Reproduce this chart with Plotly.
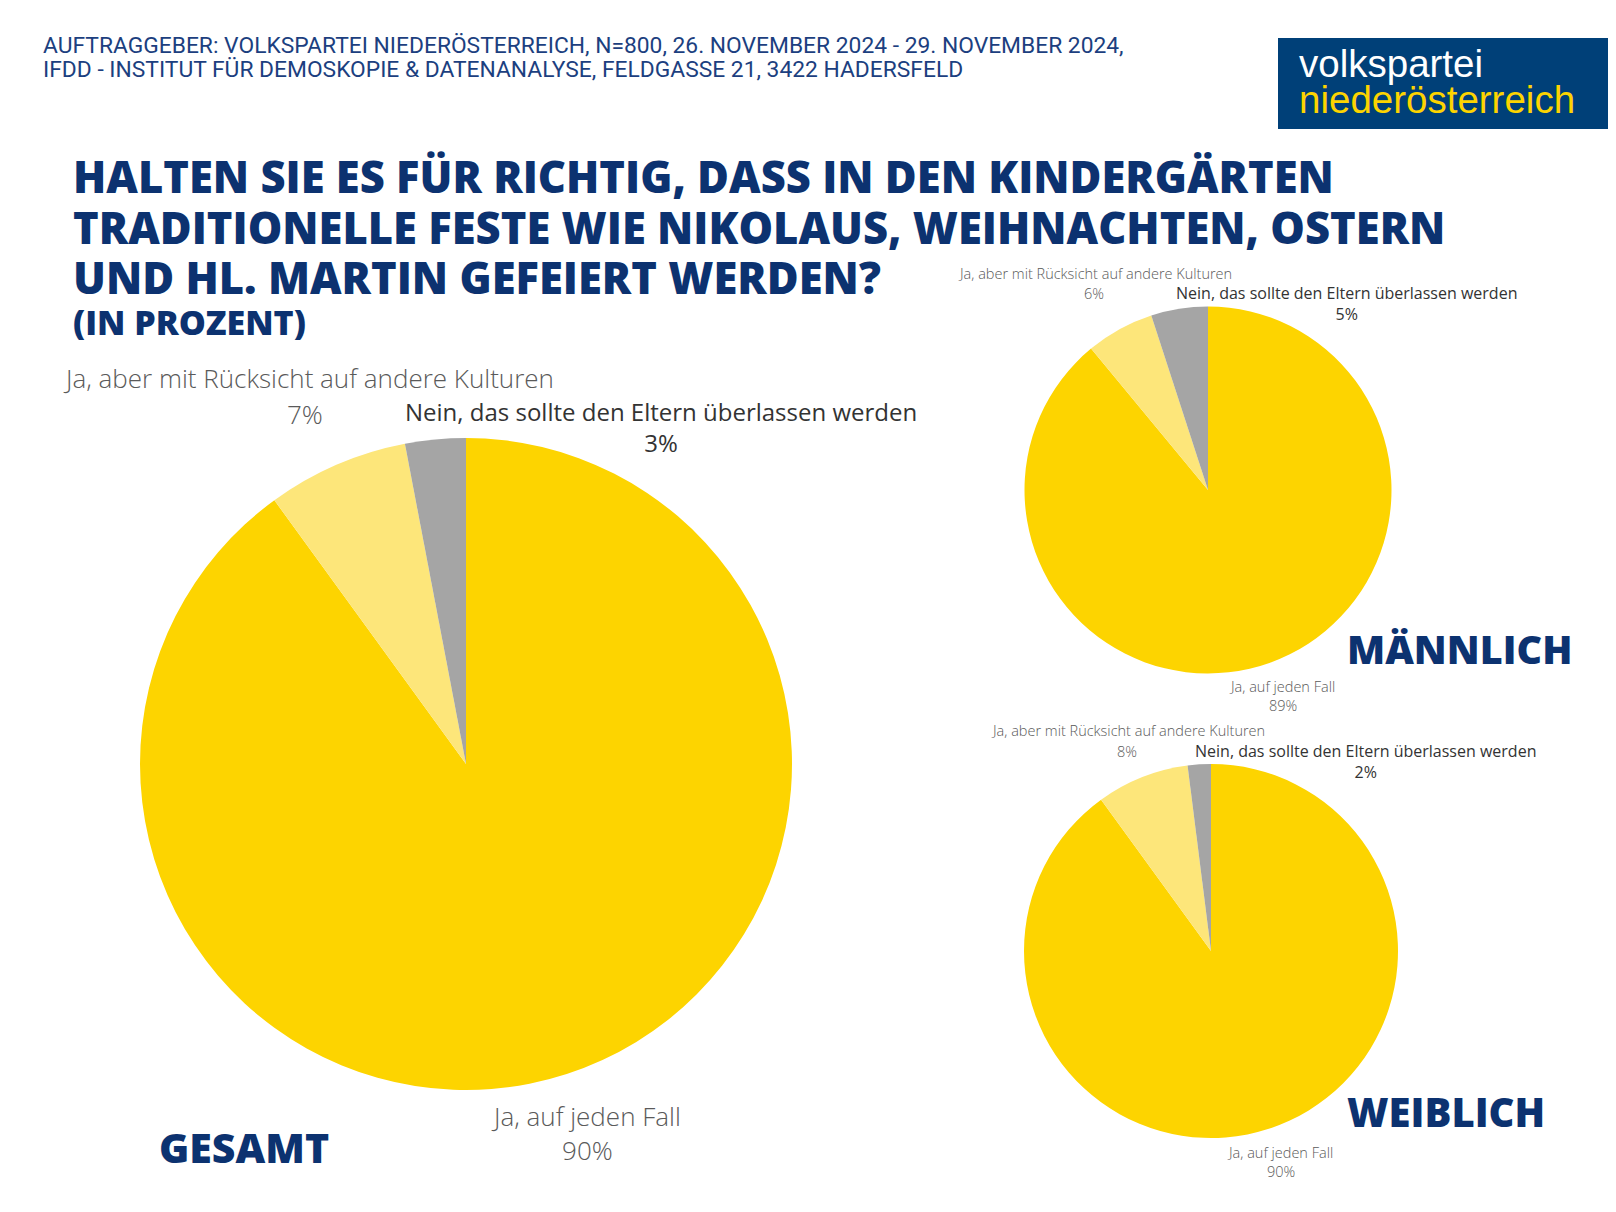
import plotly.graph_objects as go

# page is 1616x1212; the html body adds an 8px margin, so the figure is 1600x1196
PAGE_W, PAGE_H = 1616, 1212
OFF = 8
W, H = PAGE_W - 2 * OFF, PAGE_H - 2 * OFF

categories = ["Ja, auf jeden Fall", "Ja, aber mit Rücksicht auf andere Kulturen",
              "Nein, das sollte den Eltern überlassen werden"]
gesamt = [90, 7, 3]
maennlich = [89, 6, 5]
weiblich = [90, 8, 2]
colors = ["#FDD400", "#FDE67A", "#A5A5A5"]

header_lines = ["AUFTRAGGEBER: VOLKSPARTEI NIEDERÖSTERREICH, N=800, 26. NOVEMBER 2024 - 29. NOVEMBER 2024,",
                "IFDD - INSTITUT FÜR DEMOSKOPIE & DATENANALYSE, FELDGASSE 21, 3422 HADERSFELD"]
title_lines = ["HALTEN SIE ES FÜR RICHTIG, DASS IN DEN KINDERGÄRTEN",
               "TRADITIONELLE FESTE WIE NIKOLAUS, WEIHNACHTEN, OSTERN",
               "UND HL. MARTIN GEFEIERT WERDEN?"]
subtitle = "(IN PROZENT)"
group_names = ["GESAMT", "MÄNNLICH", "WEIBLICH"]

NAVY = "#0c3270"
LABEL = "#5a5a5a"
DARK = "#333333"


def px(x):
    return (x - OFF) / W


def py(y):
    return 1 - (y - OFF) / H


def dom(cx, cy, r):
    return dict(x=[px(cx - r), px(cx + r)], y=[py(cy + r), py(cy - r)])


fig = go.Figure()
pies = [(gesamt, dom(466, 764, 326)), (maennlich, dom(1208, 490, 183.5)), (weiblich, dom(1211, 951, 187))]
for vals, d in pies:
    fig.add_trace(go.Pie(labels=categories, values=vals, domain=d, sort=False,
                         direction="clockwise", rotation=0, textinfo="none",
                         marker=dict(colors=colors, line=dict(width=0)),
                         hoverinfo="label+percent", showlegend=False))

ann = []


def text(x, y, s, size, color, family="Open Sans", weight=None, xanchor="center"):
    f = dict(size=size, color=color, family=family)
    if weight is not None:
        f["weight"] = weight
    ann.append(dict(x=px(x), y=py(y), xref="paper", yref="paper", text=s, showarrow=False,
                    xanchor=xanchor, yanchor="middle", font=f))


# header
hdr_font = "Roboto, Liberation Sans, sans-serif"
text(41, 46, header_lines[0], 22.8, "#1c3f80", family=hdr_font, xanchor="left")
text(41, 70, header_lines[1], 22.8, "#1c3f80", family=hdr_font, xanchor="left")

# title
for i, t in enumerate(title_lines):
    text(71, 177 + i * 50.5, t, 43.5, NAVY, weight=800, xanchor="left")
text(71, 322, subtitle, 34, NAVY, weight=800, xanchor="left")

# big pie labels
text(61, 378, categories[1], 26, LABEL, weight=300, xanchor="left")
text(305, 414, f"{gesamt[1]}%", 26, LABEL, weight=300)
text(661, 427, f"{categories[2]}<br>{gesamt[2]}%", 24, DARK, weight=400)
text(586, 1133, f"{categories[0]}<br>{gesamt[0]}%", 26, LABEL, weight=300)

# male labels
text(1095, 273, categories[1], 14.5, LABEL, weight=300)
text(1094, 293, f"{maennlich[1]}%", 14.5, LABEL, weight=300)
text(1346, 303, f"{categories[2]}<br>{maennlich[2]}%", 16, DARK, weight=400)
text(1282, 696, f"{categories[0]}<br>{maennlich[0]}%", 14.5, LABEL, weight=300)

# female labels
text(1128, 730, categories[1], 14.5, LABEL, weight=300)
text(1127, 751, f"{weiblich[1]}%", 14.5, LABEL, weight=300)
text(1365, 761, f"{categories[2]}<br>{weiblich[2]}%", 16, DARK, weight=400)
text(1280, 1162, f"{categories[0]}<br>{weiblich[0]}%", 14.5, LABEL, weight=300)

# group names
text(157, 1147, group_names[0], 41, NAVY, weight=800, xanchor="left")
text(1345, 649, group_names[1], 39.5, NAVY, weight=800, xanchor="left")
text(1345, 1111, group_names[2], 40, NAVY, weight=800, xanchor="left")

# logo
logo_font = "Liberation Sans, Arial, sans-serif"
text(1297, 63, "volkspartei", 38.5, "white", family=logo_font, xanchor="left")
text(1297, 99, "niederösterreich", 38.5, "#FDD400", family=logo_font, xanchor="left")

fig.update_layout(
    width=W, height=H, margin=dict(l=0, r=0, t=0, b=0),
    paper_bgcolor="white", plot_bgcolor="white",
    annotations=ann,
    shapes=[dict(type="rect", xref="paper", yref="paper", x0=px(1278), x1=1.0,
                 y0=py(129), y1=py(38), fillcolor="#004078", line=dict(width=0), layer="below")],
)

fig.write_html("out.html")
